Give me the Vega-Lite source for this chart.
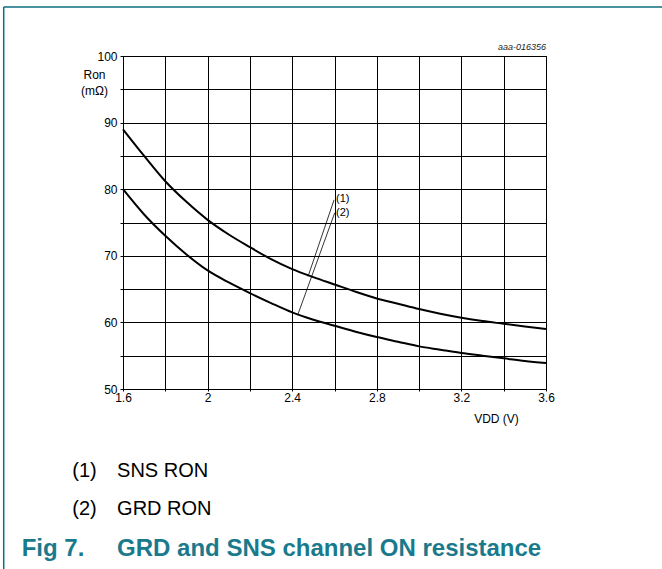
{
  "$schema": "https://vega.github.io/schema/vega-lite/v6.json",
  "width": 423,
  "height": 333,
  "autosize": {"type": "none"},
  "padding": {"left": 123, "top": 56, "right": 116, "bottom": 180},
  "background": "white",
  "config": {
    "view": {"stroke": "#000", "strokeWidth": 1},
    "font": "Liberation Sans"
  },
  "datasets": {
    "curves": [
      {"VDD": 1.6, "Ron": 89.0, "series": "SNS RON"},
      {"VDD": 1.7, "Ron": 85.0, "series": "SNS RON"},
      {"VDD": 1.8, "Ron": 81.2, "series": "SNS RON"},
      {"VDD": 1.9, "Ron": 78.1, "series": "SNS RON"},
      {"VDD": 2.0, "Ron": 75.4, "series": "SNS RON"},
      {"VDD": 2.1, "Ron": 73.2, "series": "SNS RON"},
      {"VDD": 2.2, "Ron": 71.3, "series": "SNS RON"},
      {"VDD": 2.3, "Ron": 69.5, "series": "SNS RON"},
      {"VDD": 2.4, "Ron": 68.0, "series": "SNS RON"},
      {"VDD": 2.5, "Ron": 66.8, "series": "SNS RON"},
      {"VDD": 2.6, "Ron": 65.7, "series": "SNS RON"},
      {"VDD": 2.7, "Ron": 64.6, "series": "SNS RON"},
      {"VDD": 2.8, "Ron": 63.6, "series": "SNS RON"},
      {"VDD": 2.9, "Ron": 62.8, "series": "SNS RON"},
      {"VDD": 3.0, "Ron": 62.0, "series": "SNS RON"},
      {"VDD": 3.1, "Ron": 61.3, "series": "SNS RON"},
      {"VDD": 3.2, "Ron": 60.7, "series": "SNS RON"},
      {"VDD": 3.3, "Ron": 60.2, "series": "SNS RON"},
      {"VDD": 3.4, "Ron": 59.8, "series": "SNS RON"},
      {"VDD": 3.5, "Ron": 59.4, "series": "SNS RON"},
      {"VDD": 3.6, "Ron": 59.0, "series": "SNS RON"},
      {"VDD": 1.6, "Ron": 80.0, "series": "GRD RON"},
      {"VDD": 1.7, "Ron": 76.2, "series": "GRD RON"},
      {"VDD": 1.8, "Ron": 73.0, "series": "GRD RON"},
      {"VDD": 1.9, "Ron": 70.2, "series": "GRD RON"},
      {"VDD": 2.0, "Ron": 67.8, "series": "GRD RON"},
      {"VDD": 2.1, "Ron": 66.0, "series": "GRD RON"},
      {"VDD": 2.2, "Ron": 64.4, "series": "GRD RON"},
      {"VDD": 2.3, "Ron": 62.9, "series": "GRD RON"},
      {"VDD": 2.4, "Ron": 61.5, "series": "GRD RON"},
      {"VDD": 2.5, "Ron": 60.4, "series": "GRD RON"},
      {"VDD": 2.6, "Ron": 59.5, "series": "GRD RON"},
      {"VDD": 2.7, "Ron": 58.6, "series": "GRD RON"},
      {"VDD": 2.8, "Ron": 57.8, "series": "GRD RON"},
      {"VDD": 2.9, "Ron": 57.1, "series": "GRD RON"},
      {"VDD": 3.0, "Ron": 56.4, "series": "GRD RON"},
      {"VDD": 3.1, "Ron": 55.9, "series": "GRD RON"},
      {"VDD": 3.2, "Ron": 55.4, "series": "GRD RON"},
      {"VDD": 3.3, "Ron": 55.0, "series": "GRD RON"},
      {"VDD": 3.4, "Ron": 54.6, "series": "GRD RON"},
      {"VDD": 3.5, "Ron": 54.2, "series": "GRD RON"},
      {"VDD": 3.6, "Ron": 53.9, "series": "GRD RON"}
    ],
    "leaders": [
      {"VDD": 2.598, "Ron": 78.4, "VDD2": 2.475, "Ron2": 66.9, "label": "(1)"},
      {"VDD": 2.601, "Ron": 76.45, "VDD2": 2.427, "Ron2": 61.2, "label": "(2)"}
    ],
    "leaderLabels": [
      {"VDD": 2.607, "Ron": 78.6, "label": "(1)"},
      {"VDD": 2.607, "Ron": 76.5, "label": "(2)"}
    ],
    "border": [
      {"VDD": 1.036, "Ron": 107.35, "VDD2": 4.3, "Ron2": 107.35},
      {"VDD": 1.036, "Ron": 107.35, "VDD2": 1.036, "Ron2": 15}
    ],
    "figId": [
      {"VDD": 3.6, "Ron": 100.9, "text": "aaa-016356"}
    ],
    "notes": [
      {"VDD": 1.36, "Ron": 36.85, "text": "(1)"},
      {"VDD": 1.572, "Ron": 36.85, "text": "SNS RON"},
      {"VDD": 1.36, "Ron": 31.15, "text": "(2)"},
      {"VDD": 1.572, "Ron": 31.15, "text": "GRD RON"}
    ],
    "caption": [
      {"VDD": 1.121, "Ron": 24.85, "text": "Fig 7."},
      {"VDD": 1.572, "Ron": 24.85, "text": "GRD and SNS channel ON resistance"}
    ]
  },
  "encoding": {
    "x": {
      "field": "VDD", "type": "quantitative",
      "scale": {"domain": [1.6, 3.6], "nice": false, "zero": false},
      "axis": {
        "values": [1.6, 1.8, 2.0, 2.2, 2.4, 2.6, 2.8, 3.0, 3.2, 3.4, 3.6],
        "labelExpr": "round(datum.value*10) % 4 == 0 ? format(datum.value, '~g') : ''",
        "grid": true, "gridColor": "#000", "gridOpacity": 1, "gridWidth": 1,
        "domain": false, "tickColor": "#000", "tickSize": 2,
        "labelPadding": 1, "labelFont": "Liberation Sans Narrow, Liberation Sans",
        "labelFontSize": 12, "labelColor": "#000", "labelFlush": false, "labelOverlap": false,
        "title": "VDD (V)", "titleFont": "Liberation Sans Narrow, Liberation Sans",
        "titleFontSize": 12, "titleFontWeight": "normal", "titleColor": "#000",
        "titleX": 373, "titleY": 33, "titleAlign": "center", "titleBaseline": "alphabetic"
      }
    },
    "y": {
      "field": "Ron", "type": "quantitative",
      "scale": {"domain": [50, 100], "nice": false, "zero": false},
      "axis": {
        "values": [50, 55, 60, 65, 70, 75, 80, 85, 90, 95, 100],
        "labelExpr": "datum.value % 10 == 0 ? datum.label : ''",
        "grid": true, "gridColor": "#000", "gridOpacity": 1, "gridWidth": 1,
        "domain": false, "tickColor": "#000", "tickSize": 3,
        "labelPadding": 3, "labelFont": "Liberation Sans Narrow, Liberation Sans",
        "labelFontSize": 12, "labelColor": "#000", "labelFlush": false, "labelOverlap": false,
        "title": ["Ron", "(mΩ)"], "titleFont": "Liberation Sans Narrow, Liberation Sans",
        "titleFontSize": 12, "titleFontWeight": "normal", "titleColor": "#000",
        "titleAngle": 0, "titleX": -29, "titleY": 22, "titleAlign": "center",
        "titleBaseline": "alphabetic", "titleLineHeight": 16
      }
    }
  },
  "layer": [
    {
      "data": {"name": "curves"},
      "mark": {"type": "line", "color": "#000", "strokeWidth": 2, "interpolate": "monotone"},
      "encoding": {
        "detail": {"field": "series"}
      }
    },
    {
      "data": {"name": "leaders"},
      "mark": {"type": "rule", "color": "#000", "strokeWidth": 0.8},
      "encoding": {
        "x2": {"field": "VDD2"},
        "y2": {"field": "Ron2"}
      }
    },
    {
      "data": {"name": "leaderLabels"},
      "mark": {"type": "text", "align": "left", "baseline": "middle", "font": "Liberation Sans Narrow, Liberation Sans", "fontSize": 11, "color": "#000"},
      "encoding": {
        "text": {"field": "label"}
      }
    },
    {
      "data": {"name": "figId"},
      "mark": {"type": "text", "align": "right", "baseline": "alphabetic", "font": "Liberation Sans Narrow, Liberation Sans", "fontStyle": "italic", "fontSize": 9, "color": "#222", "clip": false},
      "encoding": {
        "text": {"field": "text"}
      }
    },
    {
      "data": {"name": "border"},
      "mark": {"type": "rule", "color": "#0f6e80", "strokeWidth": 1.5, "clip": false},
      "encoding": {
        "x2": {"field": "VDD2"},
        "y2": {"field": "Ron2"}
      }
    },
    {
      "data": {"name": "notes"},
      "mark": {"type": "text", "align": "left", "baseline": "alphabetic", "font": "Liberation Sans", "fontSize": 20, "color": "#000"},
      "encoding": {
        "text": {"field": "text"}
      }
    },
    {
      "data": {"name": "caption"},
      "mark": {"type": "text", "align": "left", "baseline": "alphabetic", "font": "Liberation Sans", "fontSize": 24, "fontWeight": "bold", "color": "#1a7a8c"},
      "encoding": {
        "text": {"field": "text"}
      }
    }
  ]
}
